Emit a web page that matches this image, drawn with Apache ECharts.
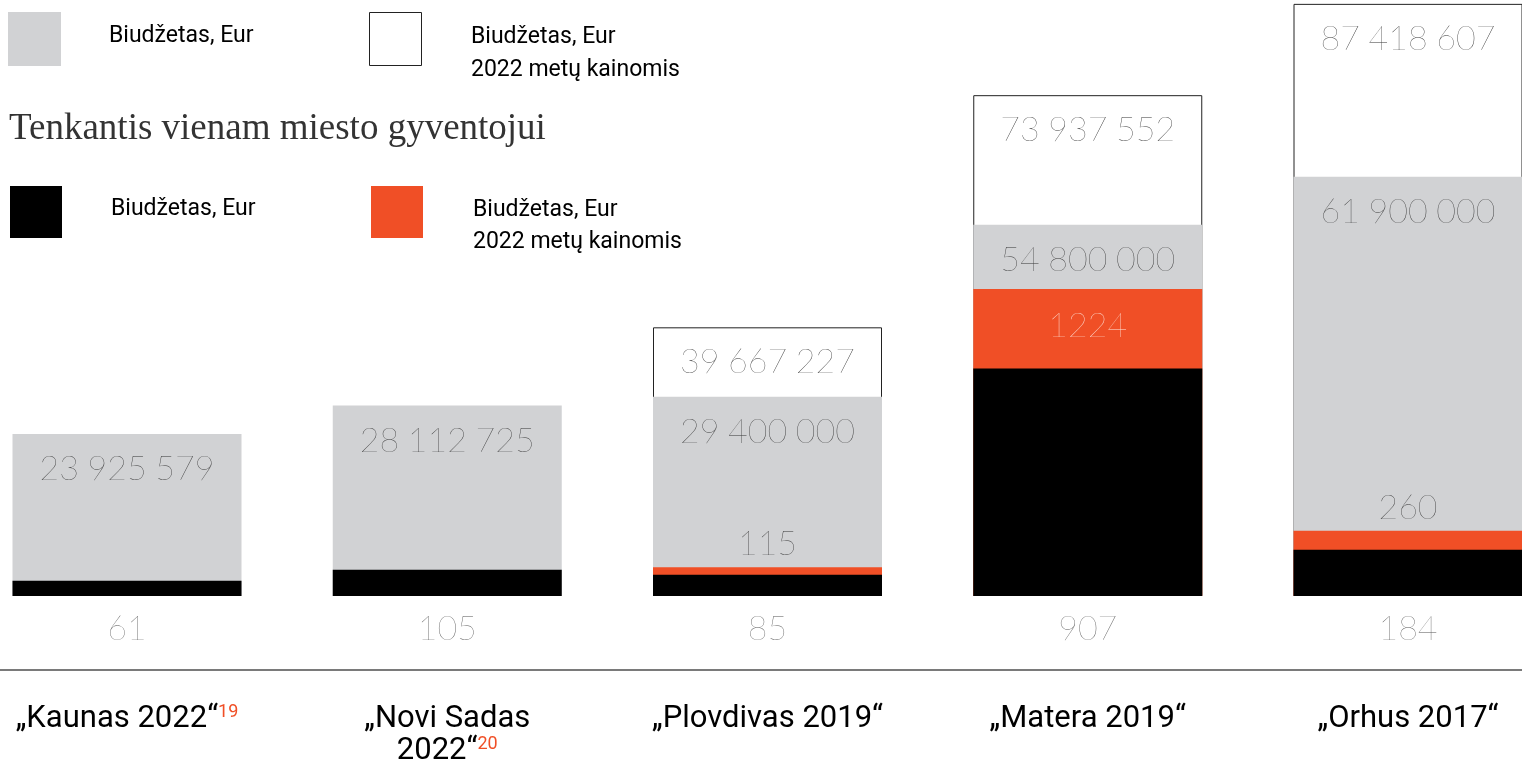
<!DOCTYPE html>
<html>
<head>
<meta charset="utf-8">
<script src="https://cdn.jsdelivr.net/npm/echarts@6/dist/echarts.min.js"></script>
<style>
  html, body { margin: 0; padding: 0; background: #fff; }
  #chart { width: 1522px; height: 764px; }
</style>
</head>
<body>
<div id="chart"></div>
<script>
(function() {
	"use strict";

	/* data */
	var cities = ['„Kaunas 2022“', '„Novi Sadas\n2022“', '„Plovdivas 2019“', '„Matera 2019“', '„Orhus 2017“'];
	var footnotes = ['19', '20', '', '', ''];
	var budget = [23925579, 28112725, 29400000, 54800000, 61900000];
	var budget2022 = [null, null, 39667227, 73937552, 87418607];
	var perCapita = [61, 105, 85, 907, 184];
	var perCapita2022 = [null, null, 115, 1224, 260];

	var grey = '#d1d2d4';
	var orange = '#f04f26';
	var numFont = 'Lato, Roboto, sans-serif';
	var sansFont = 'Roboto, Inter, sans-serif';

	// narrow space between thousands, like the printed figures
	function spaced(v) {
		return String(v).replace(/\B(?=(\d{3})+(?!\d))/g, '\u2005');
	}

	var numLabel = {
		show: true,
		position: 'insideTop',
		distance: 18,
		fontFamily: numFont,
		fontWeight: 100,
		fontSize: 34,
		color: '#333',
		formatter: function(p) { return spaced(p.value); }
	};

	var chart = echarts.init(document.getElementById('chart'));
	var option = {
		animation: false,
		grid: {
			top: 4,
			bottom: 168,
			left: 127,
			right: 114,
			containLabel: false,
			outerBoundsMode: 'none'
		},
		xAxis: {
			type: 'category',
			data: cities,
			boundaryGap: false,
			axisLine: { show: false },
			axisTick: { show: false },
			splitLine: { show: false },
			axisLabel: {
				margin: 107,
				interval: 0,
				formatter: function(v, i) {
					var s = footnotes[i] ? '{s|' + footnotes[i] + '}' : '';
					return v.split('\n').map(function(l) { return '{n|' + l + '}'; }).join('\n') + s;
				},
				rich: {
					n: { fontFamily: sansFont, fontSize: 31, color: '#000', lineHeight: 32 },
					s: { fontFamily: sansFont, fontSize: 18, color: orange, lineHeight: 32, verticalAlign: 'top' }
				}
			}
		},
		yAxis: [{
			type: 'value',
			show: false,
			min: 0,
			max: 87400000,
			splitLine: { show: false }
		}, {
			type: 'value',
			show: false,
			min: 0,
			max: 2360,
			splitLine: { show: false }
		}],
		series: [{
			name: 'Biudžetas, Eur 2022 metų kainomis',
			type: 'bar',
			yAxisIndex: 0,
			data: budget2022,
			barWidth: 229,
			barGap: '-100%',
			clip: false,
			itemStyle: { color: '#fff', borderColor: '#222', borderWidth: 1 },
			label: numLabel
		}, {
			name: 'Biudžetas, Eur',
			type: 'bar',
			yAxisIndex: 0,
			data: budget,
			barWidth: 229,
			barGap: '-100%',
			clip: false,
			itemStyle: { color: grey },
			label: numLabel
		}, {
			name: 'Gyventojui 2022 metų kainomis',
			type: 'bar',
			yAxisIndex: 1,
			data: perCapita2022.map(function(v) {
				if (v == null) return null;
				var tall = v > 500;
				return {
					value: v,
					label: {
						position: tall ? 'insideTop' : 'top',
						distance: tall ? 20 : 6,
						color: tall ? '#fde3da' : '#333'
					}
				};
			}),
			barWidth: 229,
			barGap: '-100%',
			clip: false,
			itemStyle: { color: orange },
			label: {
				show: true,
				fontFamily: numFont,
				fontWeight: 100,
				fontSize: 34,
				formatter: function(p) { return p.value; }
			}
		}, {
			name: 'Gyventojui',
			type: 'bar',
			yAxisIndex: 1,
			data: perCapita,
			barWidth: 229,
			barGap: '-100%',
			clip: false,
			itemStyle: { color: '#000' },
			label: {
				show: true,
				position: 'bottom',
				distance: 16,
				fontFamily: numFont,
				fontWeight: 100,
				fontSize: 34,
				color: '#555'
			}
		}],
		graphic: [
			/* legend, top row */
			{ type: 'rect', left: 8, top: 12, shape: { width: 53, height: 54 }, style: { fill: grey } },
			{ type: 'text', left: 109, top: 25, style: { text: 'Biudžetas, Eur', font: '23px ' + sansFont, fill: '#000' } },
			{ type: 'rect', left: 369, top: 12, shape: { width: 52, height: 53 }, style: { fill: '#fff', stroke: '#222', lineWidth: 1 } },
			{ type: 'text', left: 471, top: 21, style: { text: 'Biudžetas, Eur\n2022 metų kainomis', font: '23px ' + sansFont, fill: '#000', lineHeight: 33 } },
			/* subtitle */
			{ type: 'text', left: 9, top: 111, style: { text: 'Tenkantis vienam miesto gyventojui', font: '37px "Liberation Serif", serif', fill: '#333' } },
			/* legend, bottom row */
			{ type: 'rect', left: 10, top: 186, shape: { width: 52, height: 52 }, style: { fill: '#000' } },
			{ type: 'text', left: 111, top: 198, style: { text: 'Biudžetas, Eur', font: '23px ' + sansFont, fill: '#000' } },
			{ type: 'rect', left: 371, top: 186, shape: { width: 52, height: 52 }, style: { fill: orange } },
			{ type: 'text', left: 473, top: 194, style: { text: 'Biudžetas, Eur\n2022 metų kainomis', font: '23px ' + sansFont, fill: '#000', lineHeight: 32 } },
			/* separator */
			{ type: 'line', shape: { x1: 0, y1: 670, x2: 1522, y2: 670 }, style: { stroke: '#7a7a7a', lineWidth: 2 } }
		]
	};
	chart.setOption(option);
})();
</script>
</body>
</html>
